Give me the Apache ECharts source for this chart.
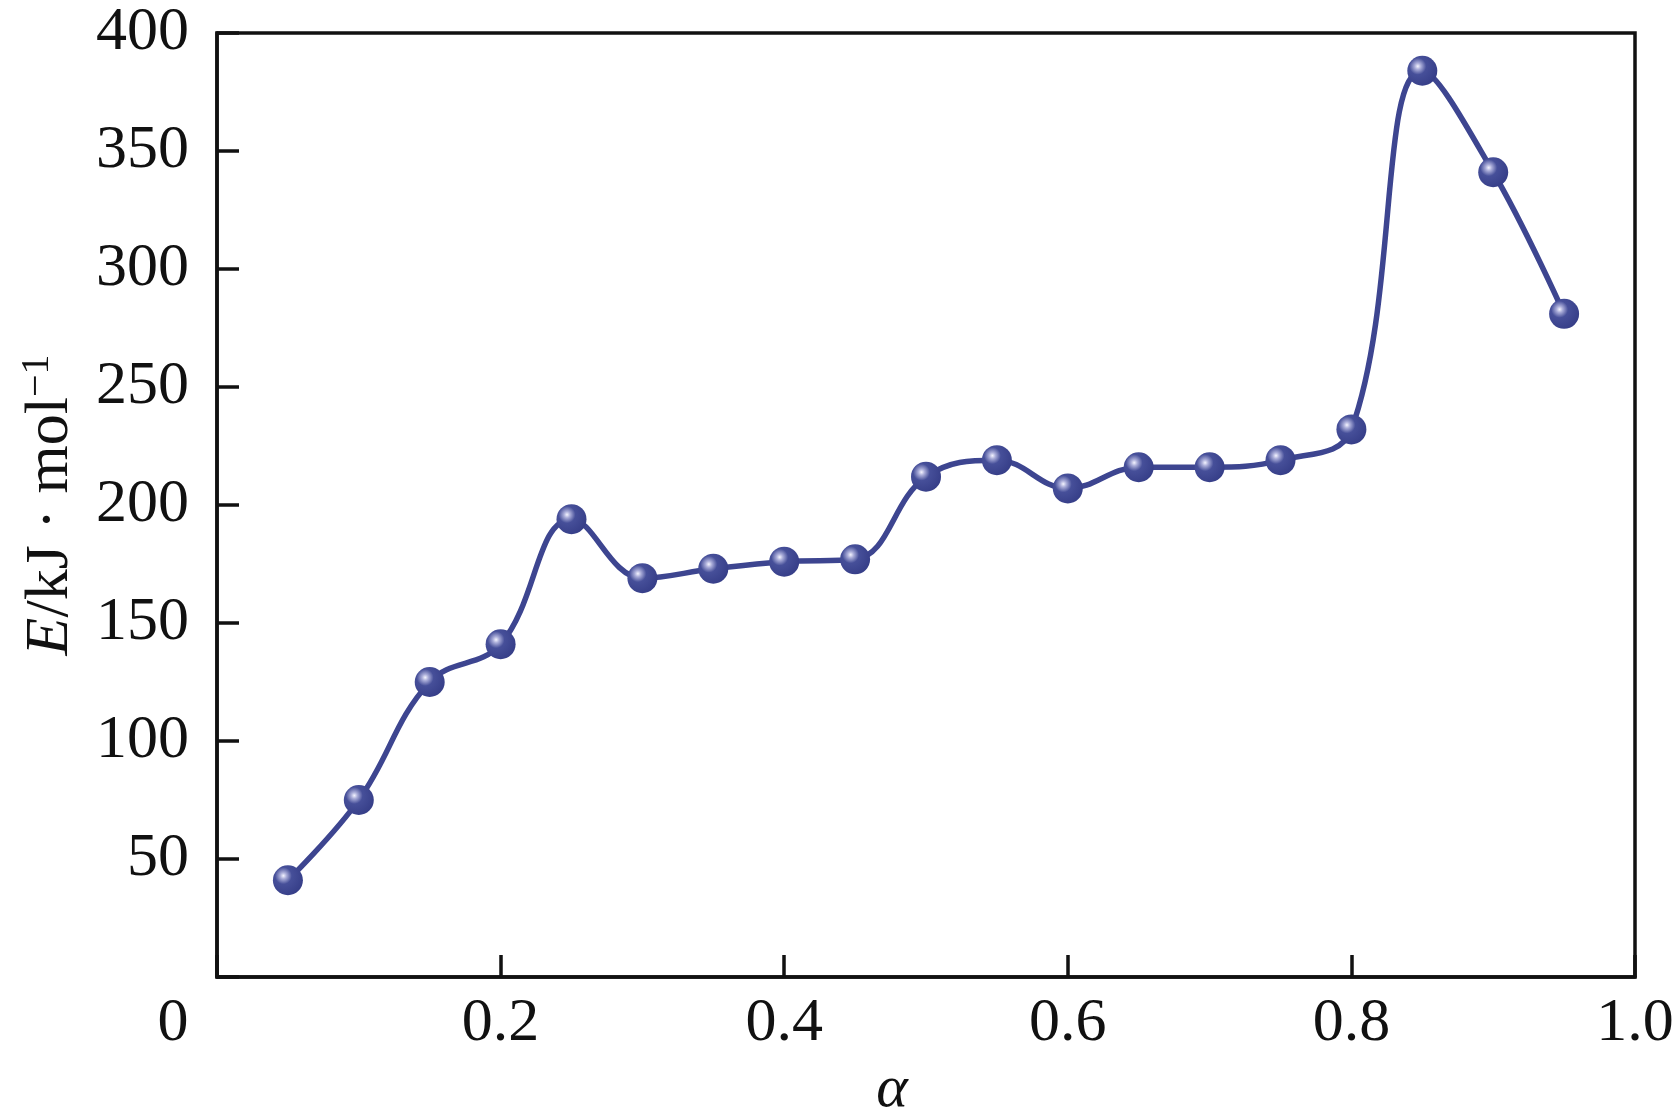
<!DOCTYPE html>
<html><head><meta charset="utf-8">
<script src="https://cdn.jsdelivr.net/npm/echarts@6/dist/echarts.min.js"></script>
<style>html,body{margin:0;padding:0;background:#fff}#c{width:1680px;height:1120px}</style>
</head><body><div id="c"></div>
<script>
const alphaValues = [0.05,0.10,0.15,0.20,0.25,0.30,0.35,0.40,0.45,0.50,0.55,0.60,0.65,0.70,0.75,0.80,0.85,0.90,0.95];
const energyValues = [41,75,125,141,194,169,173,176,177,212,219,207,216,216,219,232,384,341,281];
const xTicks = [0,0.2,0.4,0.6,0.8,1.0];
const yTicks = [50,100,150,200,250,300,350,400];

const chart = echarts.init(document.getElementById('c'));
const FONT = '"Liberation Serif", "Times New Roman", serif';
const AX = '#111';
chart.setOption({
  backgroundColor:'#fff',
  animation:false,
  grid:{left:217,right:45,top:33,bottom:143,outerBoundsMode:'none',containLabel:false,
    show:true,borderColor:AX,borderWidth:3.5,backgroundColor:'transparent'},
  xAxis:{type:'value',min:0,max:1,interval:0.2,
    name:'{a|α}',nameLocation:'middle',nameGap:76,
    nameTextStyle:{rich:{a:{fontFamily:FONT,fontStyle:'italic',fontSize:60,color:AX,padding:[0,68,0,0]}}},
    axisLine:{show:true,lineStyle:{color:AX,width:3.5}},
    axisTick:{show:true,inside:true,length:22,lineStyle:{color:AX,width:3.5}},
    splitLine:{show:false},
    axisLabel:{margin:16,fontFamily:FONT,fontSize:62,color:AX,
      formatter:function(v){ if(v===0) return '{z|0}'; return v.toFixed(1);},
      rich:{z:{fontFamily:FONT,fontSize:62,color:AX,padding:[0,88,0,0]}}}
  },
  yAxis:{type:'value',min:0,max:400,interval:50,
    name:'{i|E}{n|/kJ · mol}{s|−1}',nameLocation:'middle',nameGap:132,nameRotate:90,
    nameTextStyle:{rich:{
      i:{fontFamily:FONT,fontStyle:'italic',fontSize:62,color:AX},
      n:{fontFamily:FONT,fontSize:62,color:AX},
      s:{fontFamily:FONT,fontSize:40,color:AX,verticalAlign:'top',padding:[0,0,28,0]}}},
    axisLine:{show:true,lineStyle:{color:AX,width:3.5}},
    axisTick:{show:true,inside:true,length:22,lineStyle:{color:AX,width:3.5}},
    splitLine:{show:false},
    axisLabel:{margin:28,fontFamily:FONT,fontSize:62,color:AX,
      formatter:function(v){return v===0?'':String(v);}}
  },
  series:[{
    type:'line',
    data:alphaValues.map((a,i)=>[a,energyValues[i]]),
    smooth:0.4,
    lineStyle:{color:'#3d4590',width:5.5},
    symbol:'circle',symbolSize:30,
    itemStyle:{color:{type:'radial',x:0.35,y:0.35,r:0.7,colorStops:[
      {offset:0,color:'#f4f4ff'},{offset:0.15,color:'#a9acd8'},{offset:0.4,color:'#464f99'},{offset:1,color:'#363e88'}]},
      borderWidth:0}
  }]
});
</script></body></html>
